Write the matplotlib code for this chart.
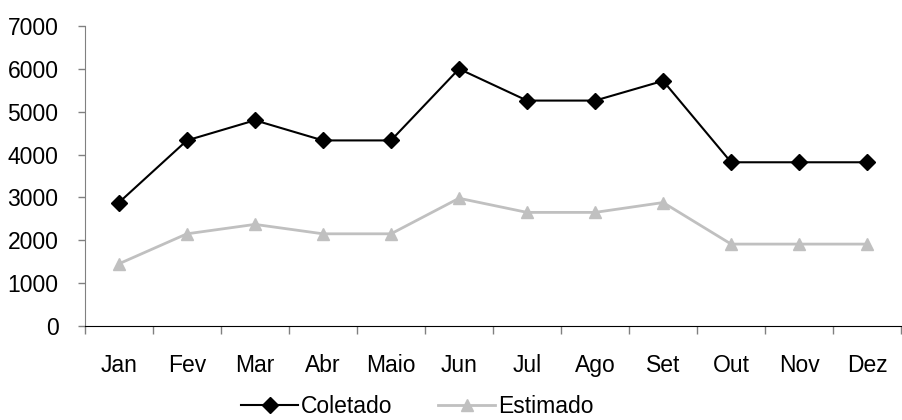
import matplotlib
matplotlib.use('Agg')
import matplotlib.pyplot as plt
import numpy as np

months = ['Jan', 'Fev', 'Mar', 'Abr', 'Maio', 'Jun', 'Jul', 'Ago', 'Set', 'Out', 'Nov', 'Dez']
coletado = [2880, 4330, 4800, 4330, 4330, 6000, 5260, 5260, 5720, 3820, 3820, 3820]
estimado = [1450, 2150, 2370, 2150, 2150, 2980, 2650, 2650, 2880, 1910, 1910, 1910]

plt.rcParams['font.family'] = ['Liberation Sans', 'DejaVu Sans']
plt.rcParams['font.size'] = 16.5

fig = plt.figure(figsize=(9.03, 4.2), dpi=100)
ax = fig.add_axes([0.094, 0.224, 0.904, 0.714])

x = np.arange(len(months))
ax.plot(x, coletado, color='black', linewidth=1.5, marker='D', markersize=8.5,
        label='Coletado')
ax.plot(x, estimado, color='#c0c0c0', linewidth=2, marker='^', markersize=9,
        label='Estimado')

ax.set_xlim(-0.5, len(months) - 0.5)
ax.set_ylim(0, 7000)
ax.set_yticks(np.arange(0, 7001, 1000))
ax.set_xticks(x)
ax.set_xticklabels(months)
# tick marks sit between the categories
ax.set_xticks(np.arange(-0.5, len(months), 1.0), minor=True)
ax.tick_params(axis='x', which='major', length=0, pad=20)
ax.tick_params(axis='x', which='minor', length=6, width=1, color='#808080')
ax.tick_params(axis='y', length=5, width=1, color='#808080', pad=14)

for s in ['top', 'right']:
    ax.spines[s].set_visible(False)
ax.spines['left'].set_color('#808080')
ax.spines['bottom'].set_color('black')

fig.legend(*ax.get_legend_handles_labels(), loc='center', bbox_to_anchor=(0.462, 0.032),
           bbox_transform=fig.transFigure, ncol=2, frameon=False,
           handlelength=2.5, handletextpad=0.1, columnspacing=2.0, borderaxespad=0)

fig.savefig('out.png', dpi=100)
